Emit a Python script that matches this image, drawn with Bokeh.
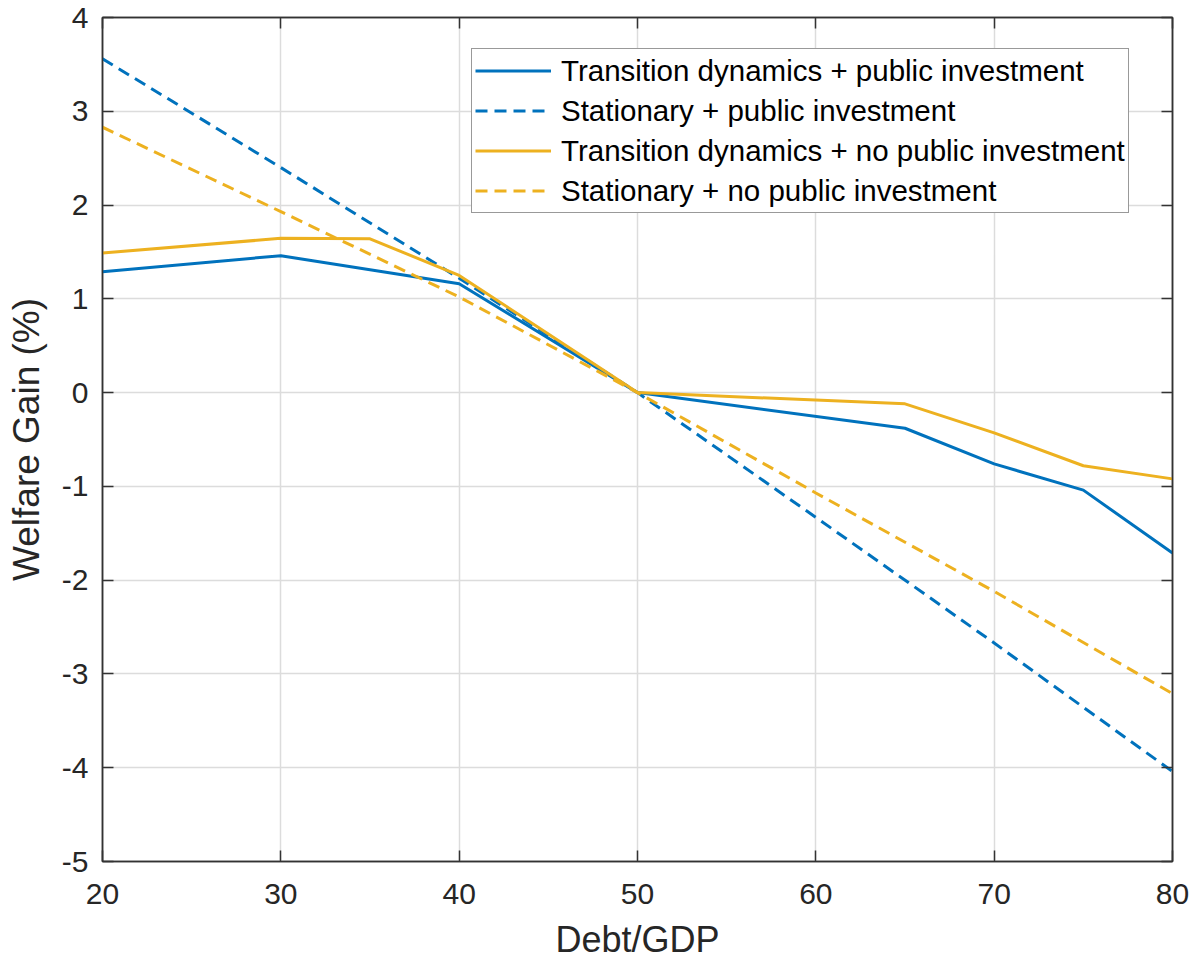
from bokeh.plotting import figure
from bokeh.models import LinearAxis, Legend, LegendItem, FixedTicker, Range1d, PrintfTickFormatter
from bokeh.embed import file_html
from bokeh.resources import INLINE

# ---- data ----
x_trans = [20, 30, 35, 40, 50, 65, 70, 75, 80]
trans_pub = [1.29, 1.46, 1.31, 1.16, 0.0, -0.38, -0.76, -1.04, -1.71]
trans_nopub = [1.49, 1.645, 1.64, 1.25, 0.0, -0.12, -0.43, -0.78, -0.92]

x_stat = [20, 30, 40, 50, 60, 70, 80]
stat_pub = [3.56, 2.40, 1.22, 0.0, -1.33, -2.67, -4.04]
stat_nopub = [2.83, 1.93, 1.02, 0.0, -1.07, -2.12, -3.21]

labels = [
    "Transition dynamics + public investment",
    "Stationary + public investment",
    "Transition dynamics + no public investment",
    "Stationary + no public investment",
]
x_ticks = [20, 30, 40, 50, 60, 70, 80]
y_ticks = [-5, -4, -3, -2, -1, 0, 1, 2, 3, 4]

BLUE = "#0072BD"
YELLOW = "#EDB120"
AXC = "#333333"
FONT = "Liberation Sans"

p = figure(width=1193, height=962, output_backend="svg", toolbar_location=None,
           x_range=Range1d(20, 80), y_range=Range1d(-5, 4),
           min_border_left=102, min_border_right=21, min_border_top=17, min_border_bottom=100)
p.background_fill_color = "white"
p.border_fill_color = "white"
p.outline_line_color = AXC
p.outline_line_width = 1.5

xa = p.below[0]
ya = p.left[0]

r1 = p.line(x_trans, trans_pub, line_color=BLUE, line_width=3)
r2 = p.line(x_stat, stat_pub, line_color=BLUE, line_width=3, line_dash="12 7")
r3 = p.line(x_trans, trans_nopub, line_color=YELLOW, line_width=3)
r4 = p.line(x_stat, stat_nopub, line_color=YELLOW, line_width=3, line_dash="12 7")

xa.ticker = FixedTicker(ticks=x_ticks)
ya.ticker = FixedTicker(ticks=y_ticks)
xa.formatter = PrintfTickFormatter(format="%d")
ya.formatter = PrintfTickFormatter(format="%d")

top = LinearAxis(ticker=FixedTicker(ticks=x_ticks), major_label_text_font_size="0px",
                 major_label_standoff=0)
right = LinearAxis(ticker=FixedTicker(ticks=y_ticks), major_label_text_font_size="0px",
                   major_label_standoff=0)
p.add_layout(top, "above")
p.add_layout(right, "right")

for ax in [xa, ya, top, right]:
    ax.major_tick_in = 11
    ax.major_tick_out = 0
    ax.minor_tick_line_color = None
    ax.axis_line_color = AXC
    ax.axis_line_width = 1.5
    ax.major_tick_line_color = AXC
    ax.major_tick_line_width = 1.5
    ax.major_label_text_font = FONT
    ax.major_label_text_color = "#262626"

xa.major_label_text_font_size = "30px"
ya.major_label_text_font_size = "30px"
xa.major_label_standoff = 22
ya.major_label_standoff = 14
xa.axis_label = "Debt/GDP"
ya.axis_label = "Welfare Gain (%)"
for ax in (xa, ya):
    ax.axis_label_text_font = FONT
    ax.axis_label_text_font_style = "normal"
    ax.axis_label_text_color = "#262626"
xa.axis_label_text_font_size = "36px"
ya.axis_label_text_font_size = "37px"
xa.axis_label_standoff = 12
ya.axis_label_standoff = 12

p.xgrid.ticker = FixedTicker(ticks=x_ticks)
p.ygrid.ticker = FixedTicker(ticks=y_ticks)
p.grid.grid_line_color = "#dcdcdc"
p.grid.grid_line_width = 1.5

legend = Legend(items=[LegendItem(label=labels[0], renderers=[r1]),
                       LegendItem(label=labels[1], renderers=[r2]),
                       LegendItem(label=labels[2], renderers=[r3]),
                       LegendItem(label=labels[3], renderers=[r4])],
                location=(369, 648))
legend.label_text_font = FONT
legend.label_text_font_size = "29.5px"
legend.label_text_color = "#000000"
legend.glyph_width = 76
legend.glyph_height = 37
legend.label_height = 37
legend.label_standoff = 10
legend.spacing = 3
legend.padding = 3
legend.margin = 0
legend.border_line_color = AXC
legend.border_line_width = 1.5
legend.background_fill_color = "white"
legend.background_fill_alpha = 1.0
p.add_layout(legend, "center")

open("out.html", "w").write(file_html(p, INLINE))
